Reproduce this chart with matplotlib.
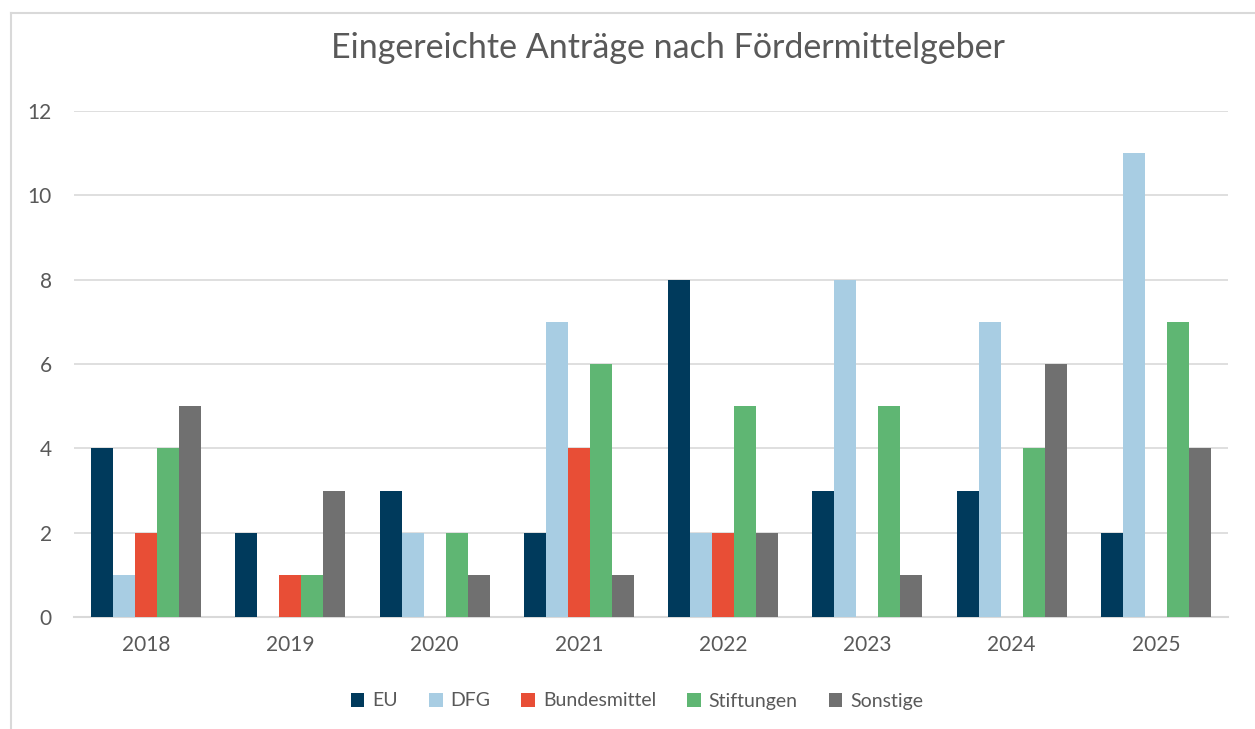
import matplotlib
matplotlib.use("Agg")
import matplotlib.pyplot as plt
import numpy as np
from matplotlib.lines import Line2D

years = ["2018", "2019", "2020", "2021", "2022", "2023", "2024", "2025"]
series_names = ["EU", "DFG", "Bundesmittel", "Stiftungen", "Sonstige"]
eu = [4, 2, 3, 2, 8, 3, 3, 2]
dfg = [1, 0, 2, 7, 2, 8, 7, 11]
bund = [2, 1, 0, 4, 2, 0, 0, 0]
stift = [4, 1, 2, 6, 5, 5, 4, 7]
sonst = [5, 3, 1, 1, 2, 1, 6, 4]
values = [eu, dfg, bund, stift, sonst]
colors = ["#003a5c", "#a8cde3", "#e84e36", "#5fb673", "#707070"]
yticks = [0, 2, 4, 6, 8, 10, 12]

plt.rcParams['font.family'] = ['Lato', 'DejaVu Sans']
txt = "#595959"

fig = plt.figure(figsize=(12.55, 7.29), dpi=100)
bx, by = 10.5 / 1255, 1 - 12.5 / 729
fig.add_artist(Line2D([bx, bx], [0, by], transform=fig.transFigure, color="#d9d9d9", linewidth=1.5))
fig.add_artist(Line2D([bx, 1], [by, by], transform=fig.transFigure, color="#d9d9d9", linewidth=1.5))

ax = fig.add_axes([74/1255, 1 - 617/729, (1228-74)/1255, (617-111)/729])

x = np.arange(len(years))
w = 0.1525
for i, (name, vals, c) in enumerate(zip(series_names, values, colors)):
    ax.bar(x + (i - 2) * w, vals, width=w, color=c, label=name, zorder=3)

ax.set_xlim(-0.5, len(years) - 0.5)
ax.set_ylim(0, 12)
ax.set_yticks(yticks)
ax.set_xticks(x)
ax.set_xticklabels(years)
ax.grid(axis='y', color="#d9d9d9", linewidth=1.2, zorder=0)
for s in ["top", "right", "left"]:
    ax.spines[s].set_visible(False)
ax.spines["bottom"].set_color("#d9d9d9")
ax.spines["bottom"].set_linewidth(1.5)
ax.tick_params(axis='both', length=0, labelsize=15, labelcolor=txt)
ax.tick_params(axis='x', pad=13)
ax.tick_params(axis='y', pad=16)

fig.text(668/1255, 1 - 48/729, "Eingereichte Anträge nach Fördermittelgeber",
         ha='center', va='center', fontsize=24.5, color=txt)

leg = fig.legend(loc='center', bbox_to_anchor=(637/1255, 1 - 701/729), ncol=5,
                 frameon=False, fontsize=14, handlelength=0.7, handleheight=0.7,
                 handletextpad=0.4, columnspacing=1.6)
for t in leg.get_texts():
    t.set_color(txt)

fig.savefig("out.png", dpi=100)
